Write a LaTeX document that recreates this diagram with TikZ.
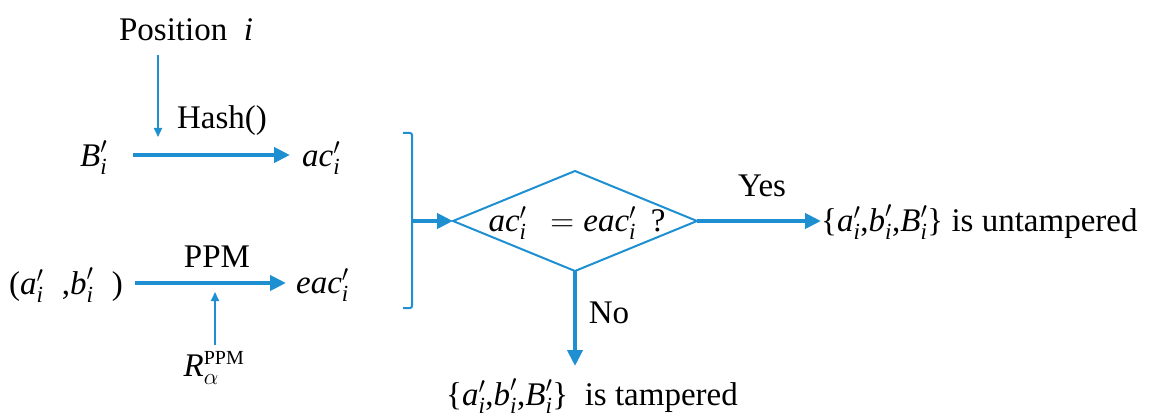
\documentclass[tikz,border=0pt]{standalone}
\usepackage{fix-cm}
\usepackage{amsmath}
\usepackage{fontspec}
\setmainfont{Liberation Serif}
\usetikzlibrary{arrows.meta}
\definecolor{flowblue}{RGB}{30,144,210}
\newcommand{\pv}[1]{\textit{#1}'_{\textit{i}}}
\newcommand{\lb}{\mbox{\{}}
\newcommand{\rb}{\mbox{\}}}
\newcommand{\cm}{\mbox{,}}
\begin{document}
\begin{tikzpicture}[x=1pt,y=-1pt,
  txt/.style={inner sep=0pt,font=\fontsize{33}{38}\selectfont},
  thickarrow/.style={draw=flowblue,line width=4pt,-{Triangle[length=16pt,width=15pt]}},
  thinarrow/.style={draw=flowblue,line width=1.8pt,-{Triangle[length=9pt,width=8pt]}},
  boxline/.style={draw=flowblue,line width=2pt}]
\useasboundingbox (0,0) rectangle (1153,417);

% top row
\node[txt] (pos) at (186,30) {Position\ \ \textit{i}};
\coordinate (p1) at (158,55);
\coordinate (p2) at (158,137);
\draw[thinarrow] (p1) -- (p2);
\node[txt,anchor=west] (B) at (80,158) {$\pv{B}$};
\node[txt,anchor=west] (ac) at (302,158) {$\pv{ac}$};
\node[txt] (hash) at (222,121) {Hash()};
\draw[thickarrow,shorten <=26pt,shorten >=12pt] (B.east |- 0,155) -- (ac.west |- 0,155);

% second row
\node[txt,anchor=west] (ab) at (9,285) {$\mbox{(}\pv{a}\;\;\cm\pv{b}\;\;\mbox{)}$};
\node[txt,anchor=west] (eac) at (296,285) {$\pv{eac}$};
\node[txt] (ppm) at (217,257) {PPM};
\draw[thickarrow,shorten <=12pt,shorten >=10pt] (ab.east |- 0,283) -- (eac.west |- 0,283);
\node[txt] (R) at (214,368) {$\textit{R}^{\mbox{\fontsize{20}{20}\selectfont PPM}}_{\alpha}$};
\coordinate (r1) at (215,345);
\coordinate (r2) at (215,292);
\draw[thinarrow] (r1) -- (r2);

% bracket
\coordinate (bt) at (403,133);
\coordinate (bb) at (403,308);
\coordinate (bm) at (412,221);
\draw[boxline,rounded corners=2pt] (bt) -- (412,133) -- (412,308) -- (bb);

% diamond
\coordinate (dl) at (453,221);
\coordinate (dt) at (575,171);
\coordinate (dr) at (697,221);
\coordinate (db) at (575,271);
\draw[boxline] (dl) -- (dt) -- (dr) -- (db) -- cycle;
\node[txt] (cond) at (577,223) {$\pv{ac}\;\,=\pv{eac}\;\,\mbox{?}$};
\draw[thickarrow] (bm) -- (dl);

% yes
\node[txt,anchor=west] (untam) at (821,222) {$\lb\pv{a}\cm\pv{b}\cm\pv{B}\rb$ is untampered};
\node[txt] (yes) at (762,186) {Yes};
\draw[thickarrow] (dr) -- (untam.west |- dr);

% no
\node[txt,anchor=west] (tam) at (446,396) {$\lb\pv{a}\cm\pv{b}\cm\pv{B}\rb$\ \ is tampered};
\node[txt] (no) at (609,313) {No};
\coordinate (nend) at (575,366);
\draw[thickarrow] (db) -- (nend);
\end{tikzpicture}
\end{document}
